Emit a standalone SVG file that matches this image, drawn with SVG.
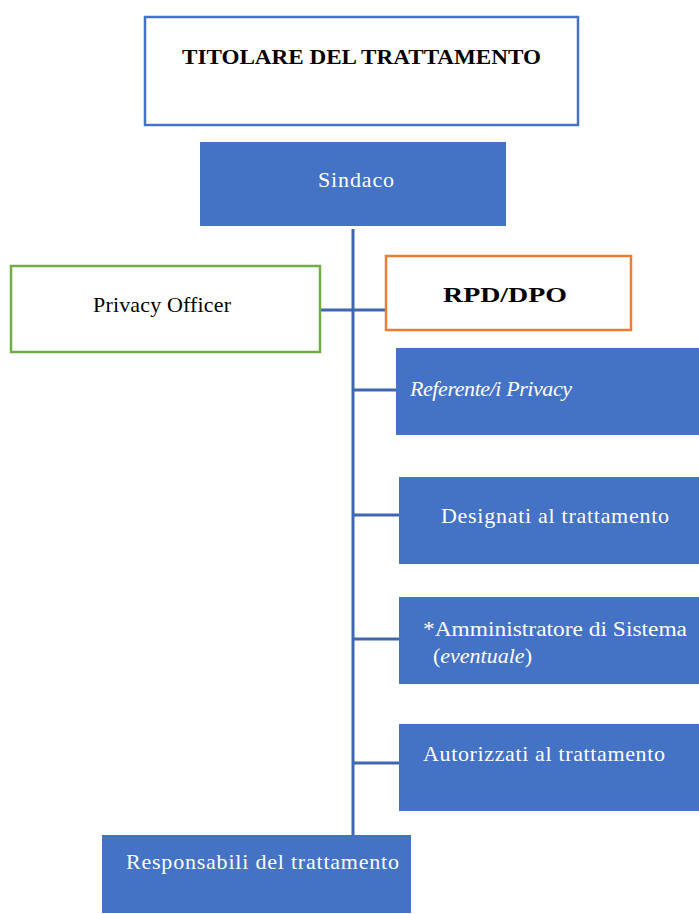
<svg xmlns="http://www.w3.org/2000/svg" width="699" height="914" viewBox="0 0 699 914">
<style>
.t{font-family:"Liberation Serif","Times New Roman",serif;font-size:22px}
.w{fill:#ffffff}
.k{fill:#000000}
.fill{fill:#4472C4}
.ln{stroke:#4066B0;stroke-width:3;fill:none}
</style>
<rect width="699" height="914" fill="#ffffff"/>
<g id="connectors">
<line class="ln" x1="353" y1="229" x2="353" y2="836"/>
<line class="ln" x1="320" y1="310" x2="386" y2="310"/>
<line class="ln" x1="353" y1="390" x2="397" y2="390"/>
<line class="ln" x1="353" y1="515" x2="400" y2="515"/>
<line class="ln" x1="353" y1="639" x2="400" y2="639"/>
<line class="ln" x1="353" y1="763" x2="400" y2="763"/>
</g>
<g id="titolare">
<rect x="145" y="17" width="433" height="108" fill="#ffffff" stroke="#4472C4" stroke-width="2.5"/>
<text class="t k" x="182" y="64" font-weight="bold" font-size="23" textLength="359" lengthAdjust="spacingAndGlyphs">TITOLARE DEL TRATTAMENTO</text>
</g>
<g id="sindaco">
<rect class="fill" x="200" y="142" width="306" height="84"/>
<text class="t w" x="318" y="187" font-size="23" textLength="76">Sindaco</text>
</g>
<g id="privacy-officer">
<rect x="11" y="266" width="309" height="86" fill="#ffffff" stroke="#70AD47" stroke-width="2.5"/>
<text class="t k" x="93" y="312" textLength="138">Privacy Officer</text>
</g>
<g id="rpd-dpo">
<rect x="386" y="256" width="245" height="74" fill="#ffffff" stroke="#ED7D31" stroke-width="2.5"/>
<text class="t k" x="443" y="302" font-weight="bold" font-size="25" textLength="124" lengthAdjust="spacingAndGlyphs">RPD/DPO</text>
</g>
<g id="referente">
<rect class="fill" x="396" y="348" width="303" height="87"/>
<text class="t w" x="410" y="396" font-style="italic" font-size="21" textLength="162">Referente/i Privacy</text>
</g>
<g id="designati">
<rect class="fill" x="399" y="477" width="300" height="87"/>
<text class="t w" x="441" y="523" font-size="23" textLength="228">Designati al trattamento</text>
</g>
<g id="amministratore">
<rect class="fill" x="399" y="597" width="300" height="87"/>
<text class="t w" x="423" y="636" textLength="264" lengthAdjust="spacingAndGlyphs">*Amministratore di Sistema</text>
<text class="t w" x="433" y="663">(<tspan font-style="italic">eventuale</tspan>)</text>
</g>
<g id="autorizzati">
<rect class="fill" x="399" y="724" width="300" height="87"/>
<text class="t w" x="423" y="761" font-size="23" textLength="242">Autorizzati al trattamento</text>
</g>
<g id="responsabili">
<rect class="fill" x="102" y="835" width="309" height="78"/>
<text class="t w" x="126" y="869" font-size="23" textLength="273">Responsabili del trattamento</text>
</g>
</svg>
